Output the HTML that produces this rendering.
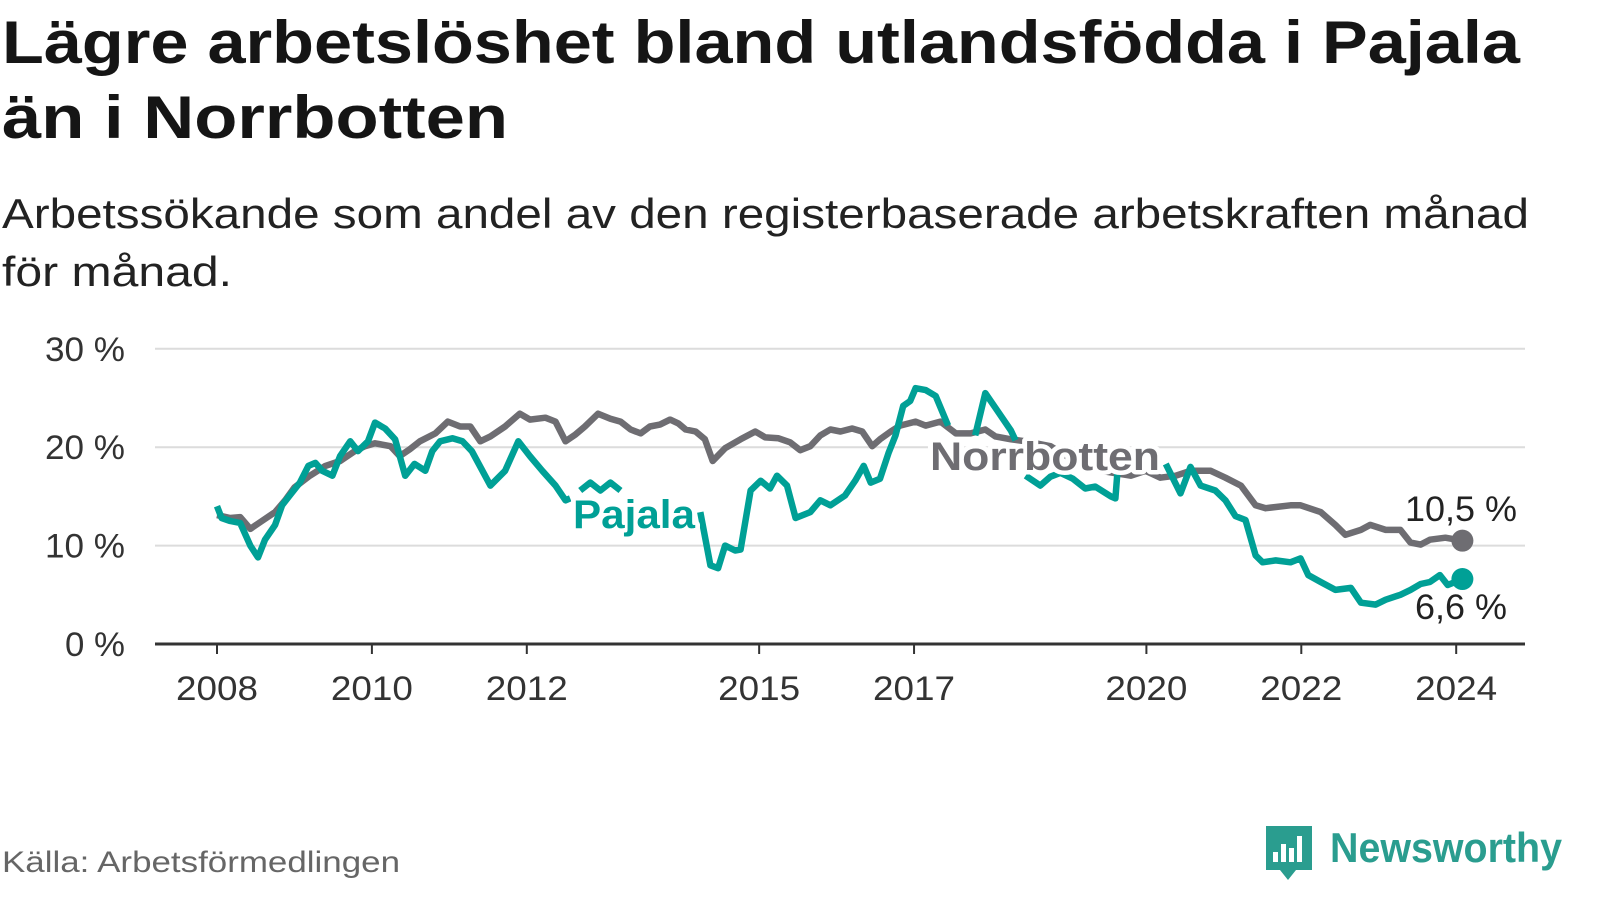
<!DOCTYPE html>
<html><head><meta charset="utf-8">
<style>
body{margin:0;width:1600px;height:900px;background:#fff;overflow:hidden;font-family:"Liberation Sans",sans-serif;color:#151515}
svg{position:absolute;left:0;top:0}
</style></head><body>
<svg id="chart" width="1600" height="900" font-family="Liberation Sans, sans-serif">
<text x="2" y="63" font-size="60" font-weight="bold" fill="#151515" textLength="1518" lengthAdjust="spacingAndGlyphs">Lägre arbetslöshet bland utlandsfödda i Pajala</text>
<text x="2" y="138" font-size="60" font-weight="bold" fill="#151515" textLength="506" lengthAdjust="spacingAndGlyphs">än i Norrbotten</text>
<text x="2" y="228" font-size="42" fill="#222" textLength="1527" lengthAdjust="spacingAndGlyphs">Arbetssökande som andel av den registerbaserade arbetskraften månad</text>
<text x="2" y="286" font-size="42" fill="#222" textLength="230" lengthAdjust="spacingAndGlyphs">för månad.</text>
<text x="2" y="872" font-size="30" fill="#666" textLength="398" lengthAdjust="spacingAndGlyphs">Källa: Arbetsförmedlingen</text>
</svg>
<script>
const yTicks=[0,10,20,30];
const yTickLabels=["0 %","10 %","20 %","30 %"];
const xTicks=[2008,2010,2012,2015,2017,2020,2022,2024];
const norrDates=[2008.0,2008.17,2008.3,2008.43,2008.58,2008.75,2008.88,2009.0,2009.2,2009.4,2009.59,2009.78,2009.91,2010.04,2010.24,2010.36,2010.49,2010.62,2010.82,2010.98,2011.14,2011.27,2011.4,2011.53,2011.72,2011.91,2012.04,2012.24,2012.37,2012.5,2012.63,2012.75,2012.92,2013.08,2013.21,2013.34,2013.47,2013.59,2013.72,2013.85,2013.96,2014.05,2014.18,2014.3,2014.4,2014.56,2014.76,2014.95,2015.08,2015.25,2015.4,2015.53,2015.66,2015.79,2015.92,2016.05,2016.2,2016.33,2016.46,2016.56,2016.7,2016.82,2017.02,2017.15,2017.34,2017.54,2017.73,2017.92,2018.05,2018.25,2018.44,2018.76,2019.09,2019.41,2019.8,2019.99,2020.18,2020.38,2020.57,2020.83,2021.02,2021.22,2021.41,2021.54,2021.86,2021.99,2022.25,2022.44,2022.57,2022.77,2022.89,2023.09,2023.28,2023.41,2023.54,2023.66,2023.86,2024.08];
const norrValues=[13.1,12.8,12.9,11.7,12.5,13.4,14.6,15.9,17.1,18.1,18.6,19.6,20.1,20.4,20.1,19.1,19.8,20.6,21.4,22.6,22.1,22.1,20.6,21.1,22.1,23.4,22.8,23.0,22.6,20.6,21.3,22.1,23.4,22.9,22.6,21.8,21.4,22.1,22.3,22.8,22.4,21.8,21.6,20.8,18.6,19.9,20.8,21.6,21.0,20.9,20.5,19.7,20.1,21.2,21.8,21.6,21.9,21.6,20.1,20.8,21.6,22.2,22.6,22.2,22.6,21.4,21.4,21.8,21.1,20.8,20.6,20.1,18.5,17.6,17.1,17.6,16.9,17.1,17.6,17.6,16.9,16.1,14.1,13.8,14.1,14.1,13.4,12.1,11.1,11.6,12.1,11.6,11.6,10.3,10.1,10.6,10.8,10.5];
const pajDates=[2008.0,2008.06,2008.17,2008.3,2008.43,2008.53,2008.62,2008.75,2008.84,2008.94,2009.07,2009.18,2009.27,2009.36,2009.49,2009.59,2009.72,2009.82,2009.95,2010.04,2010.17,2010.3,2010.43,2010.55,2010.69,2010.78,2010.88,2011.04,2011.17,2011.29,2011.53,2011.72,2011.89,2012.04,2012.2,2012.37,2012.5,2012.56,2012.62,2012.69,2012.82,2012.95,2013.08,2013.21,2013.7,2014.24,2014.37,2014.47,2014.56,2014.69,2014.76,2014.89,2015.02,2015.14,2015.23,2015.36,2015.47,2015.66,2015.79,2015.92,2016.11,2016.24,2016.35,2016.44,2016.56,2016.67,2016.76,2016.86,2016.95,2017.02,2017.15,2017.28,2017.44,2017.6,2017.79,2017.92,2018.05,2018.25,2018.31,2018.38,2018.44,2018.63,2018.76,2018.89,2019.05,2019.21,2019.34,2019.54,2019.6,2019.63,2019.64,2020.25,2020.44,2020.57,2020.7,2020.89,2021.02,2021.15,2021.28,2021.41,2021.5,2021.67,2021.86,2021.99,2022.09,2022.25,2022.44,2022.64,2022.77,2022.96,2023.09,2023.28,2023.41,2023.54,2023.66,2023.79,2023.89,2024.08];
const pajValues=[14.0,12.8,12.5,12.3,10.0,8.8,10.6,12.1,14.1,15.1,16.4,18.1,18.4,17.6,17.1,19.1,20.6,19.6,20.6,22.5,21.9,20.8,17.1,18.3,17.6,19.6,20.6,20.9,20.6,19.6,16.1,17.6,20.6,19.1,17.6,16.1,14.6,14.8,null,15.6,16.4,15.6,16.4,15.6,null,13.4,8.0,7.7,10.0,9.5,9.6,15.6,16.6,15.8,17.1,16.1,12.8,13.4,14.6,14.1,15.1,16.6,18.1,16.4,16.8,19.4,21.2,24.2,24.7,26.0,25.8,25.2,22.2,null,21.2,25.5,24.0,21.7,20.7,null,17.1,16.1,17.0,17.4,16.8,15.8,16.0,15.0,14.8,17.8,null,18.3,15.3,18.0,16.1,15.6,14.6,13.0,12.6,9.0,8.3,8.5,8.3,8.7,7.0,6.3,5.5,5.7,4.2,4.0,4.5,5.0,5.5,6.1,6.3,7.0,6.0,6.6];

const svg=document.getElementById('chart');
const NS='http://www.w3.org/2000/svg';
const X=y=>217+(y-2008)*77.45;
const Y=v=>644-v*9.84;
function mk(tag,attrs,parent){const e=document.createElementNS(NS,tag);for(const k in attrs)e.setAttribute(k,attrs[k]);(parent||svg).appendChild(e);return e;}
yTicks.forEach((t,i)=>{
  if(t>0){const g=mk('line',{x1:155,x2:1525,y1:Y(t),y2:Y(t),stroke:'#dcdcdc','stroke-width':2});
  
  }
  const lbl=yTickLabels[i];
  const tx=mk('text',{x:125,y:Y(t)+12,'text-anchor':'end','font-size':34,fill:'#333',textLength:lbl.length*20,lengthAdjust:'spacingAndGlyphs'});
  tx.textContent=lbl;
  
  
});
const ax=mk('line',{x1:155,x2:1525,y1:644,y2:644,stroke:'#333','stroke-width':3});


xTicks.forEach(t=>{
  const l=mk('line',{x1:X(t),x2:X(t),y1:644,y2:654,stroke:'#333','stroke-width':2});
  
  
  const tx=mk('text',{x:X(t)-41,y:700,'font-size':34,fill:'#333',textLength:82,lengthAdjust:'spacingAndGlyphs'});
  tx.textContent=t;
  
  
});
function path(dates,vals){let d='',pen=false;dates.forEach((t,i)=>{const v=vals[i];if(v===null){pen=false;return;}d+=(pen?'L':'M')+X(t).toFixed(1)+','+Y(v).toFixed(1);pen=true;});return d;}
const pn=mk('path',{d:path(norrDates,norrValues),fill:'none',stroke:'#6e6d72','stroke-width':6.5,'stroke-linejoin':'round'});


const pp=mk('path',{d:path(pajDates,pajValues),fill:'none',stroke:'#00a096','stroke-width':6.5,'stroke-linejoin':'round'});


const nl=norrValues.length-1,pl=pajValues.length-1;
const dn=mk('circle',{cx:X(norrDates[nl]),cy:Y(norrValues[nl]),r:11,fill:'#6e6d72'});


const dp=mk('circle',{cx:X(pajDates[pl]),cy:Y(pajValues[pl]),r:11,fill:'#00a096'});


function label(txt,x,y,col,name,bold,w){const t=mk('text',{x:x,y:y,'font-size':bold?40:35,'font-weight':bold?'bold':'normal',fill:col,stroke:'#fff','stroke-width':bold?9:6,'paint-order':'stroke','stroke-linejoin':'round',textLength:w,lengthAdjust:'spacingAndGlyphs'});t.textContent=txt;return t;}
label('Pajala',573,528,'#00a096','pajala-label',true,122);
label('Norrbotten',930,470,'#6e6d72','norrbotten-label',true,230);
label(norrValues[nl].toFixed(1).replace('.',',')+' %',1405,521,'#222','norrbotten-value-label',false,112);
label(pajValues[pl].toFixed(1).replace('.',',')+' %',1415,619,'#222','pajala-value-label',false,92);
// logo
const lg=mk('g',{});


mk('path',{d:'M1266,826 h46 v44 h-16 l-8,10 l-8,-10 h-14 z',fill:'#2a9d8f'},lg);
[[1273,852,5,10],[1281,844,5,18],[1289,848,5,14],[1297,836,5,26]].forEach(b=>mk('rect',{x:b[0],y:b[1],width:b[2],height:b[3],fill:'#fff'},lg));
const lt=mk('text',{x:1330,y:862,'font-size':42,'font-weight':'bold',fill:'#2a9d8f',textLength:232,lengthAdjust:'spacingAndGlyphs'},lg);
lt.textContent='Newsworthy';
</script>
</body></html>
